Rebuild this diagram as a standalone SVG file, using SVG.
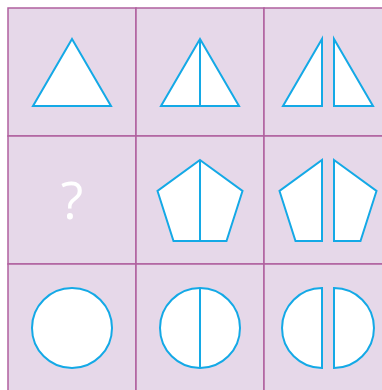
<svg xmlns="http://www.w3.org/2000/svg" width="382" height="390" viewBox="0 0 382 390">
<style>
.cell{fill:#E6D8E9;stroke:#B0609E;stroke-width:1.5}
.shape{fill:#FFFFFF;stroke:#14A9E6;stroke-width:2;stroke-linejoin:miter}
.q{fill:#FFFFFF;font-family:"Open Sans","Liberation Sans",sans-serif;font-size:52px;text-anchor:middle}
</style>
<rect width="382" height="390" fill="#FFFFFF"/>
<g id="grid">
<rect class="cell" x="8" y="8" width="128" height="128"/>
<rect class="cell" x="136" y="8" width="128" height="128"/>
<rect class="cell" x="264" y="8" width="128" height="128"/>
<rect class="cell" x="8" y="136" width="128" height="128"/>
<rect class="cell" x="136" y="136" width="128" height="128"/>
<rect class="cell" x="264" y="136" width="128" height="128"/>
<rect class="cell" x="8" y="264" width="128" height="128"/>
<rect class="cell" x="136" y="264" width="128" height="128"/>
<rect class="cell" x="264" y="264" width="128" height="128"/>
</g>
<g id="triangle-whole"><polygon class="shape" points="72,39 111,106 33,106"/></g>
<g id="triangle-split"><polygon class="shape" points="200,39 239,106 161,106"/><line class="shape" x1="200" y1="39" x2="200" y2="106"/></g>
<g id="triangle-halves"><polygon class="shape" points="322,39 322,106 283,106"/><polygon class="shape" points="334,39 373,106 334,106"/></g>
<g id="question"><text class="q" x="72" y="219">?</text></g>
<g id="pentagon-split"><polygon class="shape" points="200,160 242.5,191 226.5,241 173.5,241 157.5,191"/><line class="shape" x1="200" y1="160" x2="200" y2="241"/></g>
<g id="pentagon-halves"><polygon class="shape" points="322,160 322,241 295.5,241 279.5,191"/><polygon class="shape" points="334,160 376.5,191 360.5,241 334,241"/></g>
<g id="circle-whole"><circle class="shape" cx="72" cy="328" r="40"/></g>
<g id="circle-split"><circle class="shape" cx="200" cy="328" r="40"/><line class="shape" x1="200" y1="288" x2="200" y2="368"/></g>
<g id="circle-halves"><path class="shape" d="M322,288 A40,40 0 0 0 322,368 Z"/><path class="shape" d="M334,288 A40,40 0 0 1 334,368 Z"/></g>
<g id="connectors"/>
</svg>
